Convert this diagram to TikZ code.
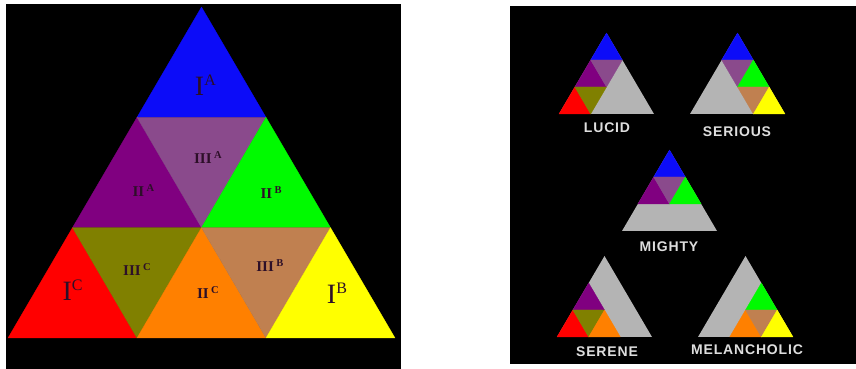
\documentclass[tikz,border=0pt]{standalone}
\usepackage{fontspec}
\setmainfont{Liberation Serif}
\newfontfamily\capsfont[LetterSpace=6]{Liberation Sans}
\usepackage{xcolor}

\definecolor{cIA}{RGB}{12,12,248}
\definecolor{cIIA}{RGB}{128,0,128}
\definecolor{cIIIA}{RGB}{138,74,140}
\definecolor{cIIB}{RGB}{0,250,0}
\definecolor{cIC}{RGB}{255,0,0}
\definecolor{cIIIC}{RGB}{128,128,0}
\definecolor{cIIC}{RGB}{255,128,0}
\definecolor{cIIIB}{RGB}{192,128,80}
\definecolor{cIB}{RGB}{255,255,0}
\definecolor{tgray}{RGB}{180,180,180}
\definecolor{ink}{RGB}{45,15,40}
\definecolor{capsgray}{RGB}{222,222,222}

\tikzset{
  pics/tileup/.style={code={\fill[#1,draw=#1,line width=0.3pt,line join=round] (0,0) -- (1,0) -- (0.5,1) -- cycle;}},
  pics/tiledown/.style={code={\fill[#1,draw=#1,line width=0.3pt,line join=round] (0,1) -- (1,1) -- (0.5,0) -- cycle;}},
  biglbl/.style={text=ink,inner sep=0pt},
  smalllbl/.style={text=ink,inner sep=0pt,font=\bfseries\fontsize{15}{15}\selectfont},
  caps/.style={text=capsgray,inner sep=0pt,font=\capsfont\bfseries\fontsize{14}{14}\selectfont}
}
\newcommand\bigI[1]{{\fontsize{28}{28}\selectfont I}\raisebox{10pt}{\fontsize{16}{16}\selectfont #1}}
\newcommand\romsup[2]{#1\,\raisebox{5pt}{\fontsize{10.5}{10.5}\selectfont #2}}

\begin{document}
\begin{tikzpicture}[x=1pt,y=1pt,line cap=round]
\useasboundingbox (0,0) rectangle (856,369);
\fill[white] (0,0) rectangle (856,369);
\fill[black] (6,0) rectangle (401,365);
\fill[black] (510,5) rectangle (856,363);
% the full pyramid
\begin{scope}[shift={(8,31)},x=129pt,y=110.33pt]
\pic at (1,2) {tileup=cIA};
\pic at (0.5,1) {tileup=cIIA};
\pic at (1,1) {tiledown=cIIIA};
\pic at (1.5,1) {tileup=cIIB};
\pic at (0,0) {tileup=cIC};
\pic at (0.5,0) {tiledown=cIIIC};
\pic at (1,0) {tileup=cIIC};
\pic at (1.5,0) {tiledown=cIIIB};
\pic at (2,0) {tileup=cIB};
\node[biglbl] (IA) at (1.53,2.29) {\bigI{A}};
\node[smalllbl] (IIIA) at (1.55,1.64) {\romsup{III}{A}};
\node[smalllbl] (IIA) at (1.05,1.34) {\romsup{II}{A}};
\node[smalllbl] (IIB) at (2.04,1.32) {\romsup{II}{B}};
\node[smalllbl] (IIIC) at (1.0,0.62) {\romsup{III}{C}};
\node[smalllbl] (IIC) at (1.55,0.41) {\romsup{II}{C}};
\node[smalllbl] (IIIB) at (2.03,0.66) {\romsup{III}{B}};
\node[biglbl] (IC) at (0.5,0.43) {\bigI{C}};
\node[biglbl] (IB) at (2.55,0.41) {\bigI{B}};
\end{scope}
% lucid
\begin{scope}[shift={(559,255)},x=31.67pt,y=27pt]
\fill[tgray] (0,0) -- (3,0) -- (1.5,3) -- cycle;
\pic at (1,2) {tileup=cIA};
\pic at (0.5,1) {tileup=cIIA};
\pic at (1,1) {tiledown=cIIIA};
\pic at (0,0) {tileup=cIC};
\pic at (0.5,0) {tiledown=cIIIC};
\end{scope}
% serious
\begin{scope}[shift={(690,255)},x=31.67pt,y=27pt]
\fill[tgray] (0,0) -- (3,0) -- (1.5,3) -- cycle;
\pic at (1,2) {tileup=cIA};
\pic at (1,1) {tiledown=cIIIA};
\pic at (1.5,1) {tileup=cIIB};
\pic at (1.5,0) {tiledown=cIIIB};
\pic at (2,0) {tileup=cIB};
\end{scope}
% mighty
\begin{scope}[shift={(622,138)},x=31.67pt,y=27pt]
\fill[tgray] (0,0) -- (3,0) -- (1.5,3) -- cycle;
\pic at (1,2) {tileup=cIA};
\pic at (0.5,1) {tileup=cIIA};
\pic at (1,1) {tiledown=cIIIA};
\pic at (1.5,1) {tileup=cIIB};
\end{scope}
% serene
\begin{scope}[shift={(557,32)},x=31.67pt,y=27pt]
\fill[tgray] (0,0) -- (3,0) -- (1.5,3) -- cycle;
\pic at (0.5,1) {tileup=cIIA};
\pic at (0,0) {tileup=cIC};
\pic at (0.5,0) {tiledown=cIIIC};
\pic at (1,0) {tileup=cIIC};
\end{scope}
% melancholic
\begin{scope}[shift={(698,32)},x=31.67pt,y=27pt]
\fill[tgray] (0,0) -- (3,0) -- (1.5,3) -- cycle;
\pic at (1.5,1) {tileup=cIIB};
\pic at (1,0) {tileup=cIIC};
\pic at (1.5,0) {tiledown=cIIIB};
\pic at (2,0) {tileup=cIB};
\end{scope}
\node[caps] (lucid) at (607,241) {LUCID};
\node[caps] (serious) at (737,237) {SERIOUS};
\node[caps] (mighty) at (669,122) {MIGHTY};
\node[caps] (serene) at (607,17) {SERENE};
\node[caps] (melancholic) at (747,19) {MELANCHOLIC};
\end{tikzpicture}
\end{document}
